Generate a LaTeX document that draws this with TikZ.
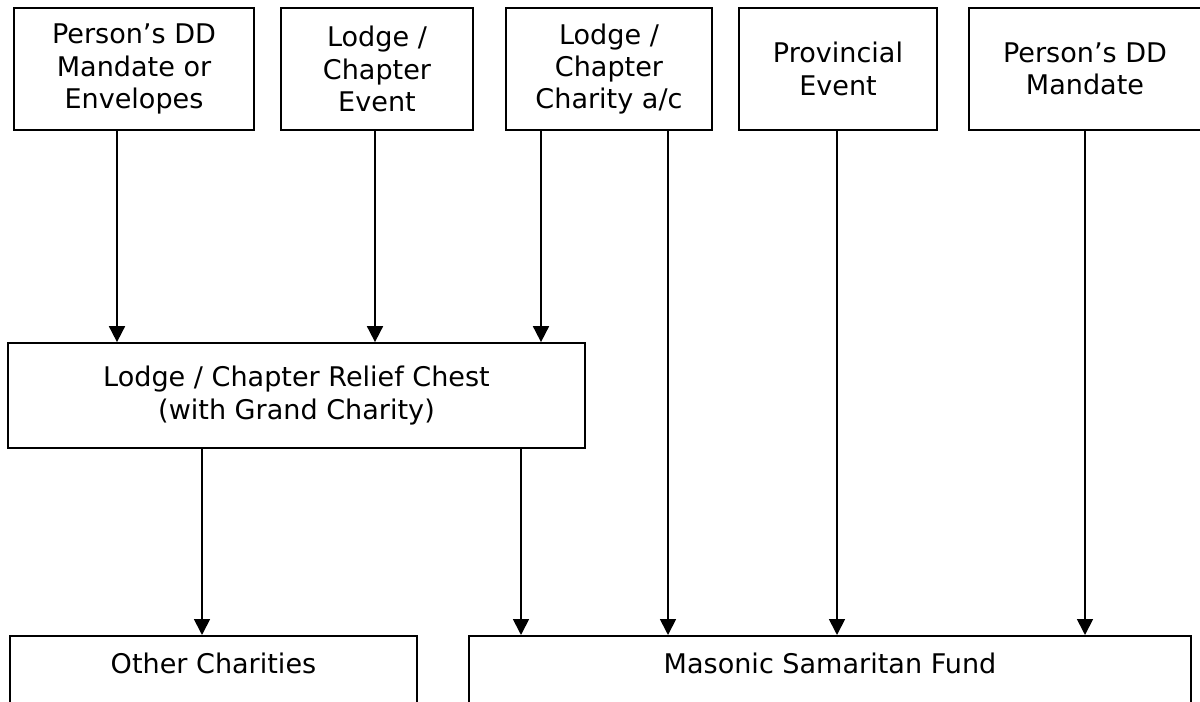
\documentclass[tikz,border=0pt]{standalone}
\usepackage{fontspec}
\setmainfont{DejaVu Sans}
\usetikzlibrary{arrows.meta,positioning}
\newcommand{\boxfont}{\fontsize{15.4}{18.4}\selectfont}
\tikzset{
  box/.style={draw, line width=1pt, align=center, inner sep=0pt, font=\boxfont},
  boxtxt/.style={inner sep=0pt, font=\boxfont},
  flow/.style={-{Triangle[length=0.32cm,width=0.32cm]}, line width=1pt}
}

\begin{document}
\begin{tikzpicture}[x=0.02cm, y=-0.02cm]
\clip (0,0) rectangle (1200,702);
\node[box, minimum width=4.8cm, minimum height=2.44cm] (dd1) at (134,69) {Person’s DD\\Mandate or\\Envelopes};
\node[box, minimum width=3.84cm, minimum height=2.44cm] (event) at (377,69) {Lodge /\\Chapter\\Event};
\node[box, minimum width=4.12cm, minimum height=2.44cm] (acct) at (609,69) {Lodge /\\Chapter\\Charity a/c};
\node[box, minimum width=3.96cm, minimum height=2.44cm] (prov) at (838,69) {Provincial\\Event};
\node[box, minimum width=4.64cm, minimum height=2.44cm] (dd2) at (1085,69) {Person’s DD\\Mandate};
\node[box, minimum width=11.54cm, minimum height=2.1cm] (chest) at (296.5,395.5) {Lodge / Chapter Relief Chest\\(with Grand Charity)};
\node[box, minimum width=8.14cm, minimum height=2.1cm, anchor=north] (other) at (213.5,635) {};
\node[box, minimum width=14.44cm, minimum height=2.1cm, anchor=north] (msf) at (830,635) {};
\node[boxtxt, below=0.36cm of other.north] (othertxt) {Other Charities};
\node[boxtxt, below=0.36cm of msf.north] (msftxt) {Masonic Samaritan Fund};
\foreach \xx/\src/\dst in {117/dd1/chest, 375/event/chest, 541/acct/chest, 668/acct/msf,
    837/prov/msf, 1085/dd2/msf, 202/chest/other, 521/chest/msf}
  \draw[flow] (\src.south -| \xx,0) -- (\dst.north -| \xx,0);
\end{tikzpicture}
\end{document}
